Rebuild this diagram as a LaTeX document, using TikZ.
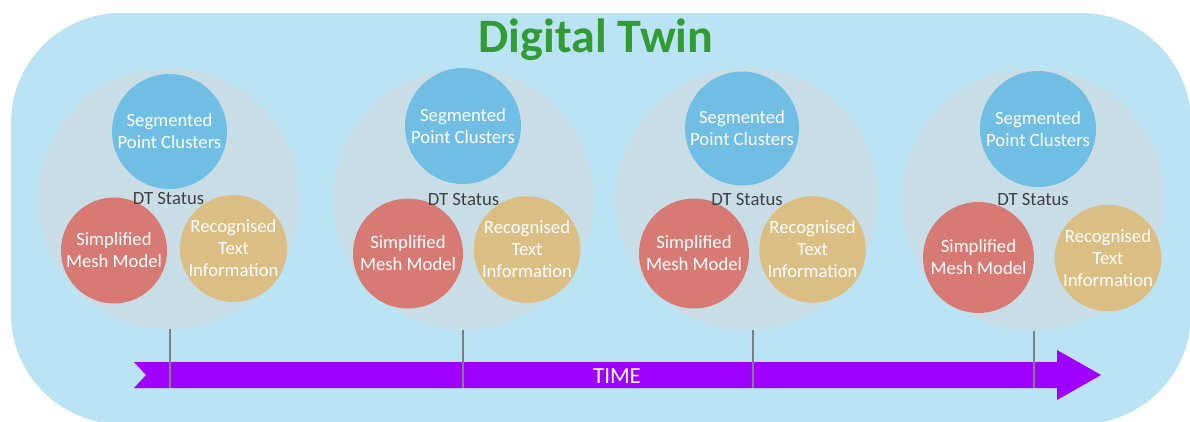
\documentclass[tikz,border=0pt]{standalone}
\usepackage{fontspec}
\setmainfont{Carlito}
\definecolor{panelblue}{RGB}{186,227,244}
\definecolor{statusgrey}{RGB}{201,221,230}
\definecolor{clusterblue}{RGB}{113,190,228}
\definecolor{meshred}{RGB}{215,122,115}
\definecolor{textorange}{RGB}{222,187,122}
\definecolor{timepurple}{RGB}{160,0,255}
\definecolor{titlegreen}{RGB}{51,155,51}
\definecolor{labelgrey}{RGB}{64,64,64}
\definecolor{stalkgrey}{RGB}{127,127,127}
\newcommand\partfont{\fontsize{18.7}{22}\selectfont}
\begin{document}
\begin{tikzpicture}[x=1pt,y=-1pt,
  every node/.style={inner sep=0pt,outer sep=0pt},
  status/.style={circle,fill=statusgrey,minimum size=#1},
  part/.style={circle,text=white,align=center,font=\partfont,minimum size=#1},
  cluster/.style={part=#1,fill=clusterblue},
  mesh/.style={part=#1,fill=meshred},
  ocr/.style={part=#1,fill=textorange,fill opacity=0.9,text opacity=1},
  statuslabel/.style={text=labelgrey,font=\partfont},
  stalk/.style={draw=stalkgrey,line width=1.4pt}]
\useasboundingbox (0,0) rectangle (1190,421);

% rounded panel, running past the right and bottom edges
\begin{scope}
  \clip (0,0) rectangle (1190,421);
  \fill[panelblue,rounded corners=110pt] (11,13) rectangle (1191,424);
\end{scope}

\node[anchor=base,text=titlegreen,font=\fontsize{48}{56}\selectfont\bfseries]
  (title) at (596,52) {Digital Twin};

% snapshots: status disc, three components, status label
\foreach \i/\Bx/\By/\Bd/\Cx/\Cy/\Cd/\Mx/\My/\Md/\Ox/\Oy/\Od in {
    1/168.5/198.5/261/169.5/131.5/115/114/250.5/106/233.5/248.5/107,
    2/463.5/199/261/463/126/116/408/253.5/110/527/249.5/103,
    3/747/199/262/742/128.5/114/694/253.5/110/812.5/249.5/103,
    4/1033/199.5/262/1038/129/116/978.5/257.5/111/1108/258/103}{
  \node[status=\Bd pt] (dt\i) at (\Bx,\By) {};
  \node[cluster=\Cd pt] (spc\i) at (\Cx,\Cy) {Segmented\\Point Clusters};
  \node[mesh=\Md pt] (smm\i) at (\Mx,\My) {Simplified\\Mesh Model};
  \node[ocr=\Od pt] (rti\i) at (\Ox,\Oy) {Recognised\\Text\\Information};
  \node[statuslabel] (lbl\i) at (dt\i.center) {DT Status};
}

% time arrow
\fill[timepurple] (134,362) -- (1057,362) -- (1057,350) -- (1101,375)
  -- (1057,400) -- (1057,388) -- (134,388) -- (146,375) -- cycle;
\node[anchor=base,text=white,font=\fontsize{23}{27}\selectfont] (time) at (617,383) {TIME};

% stalks from each snapshot down to the arrow
\coordinate (t1) at (170,388);
\coordinate (t2) at (463,388);
\coordinate (t3) at (753,388);
\coordinate (t4) at (1034,388);
\foreach \i in {1,...,4}{
  \draw[stalk] (dt\i.south -| t\i) -- (t\i);
}
\end{tikzpicture}
\end{document}
